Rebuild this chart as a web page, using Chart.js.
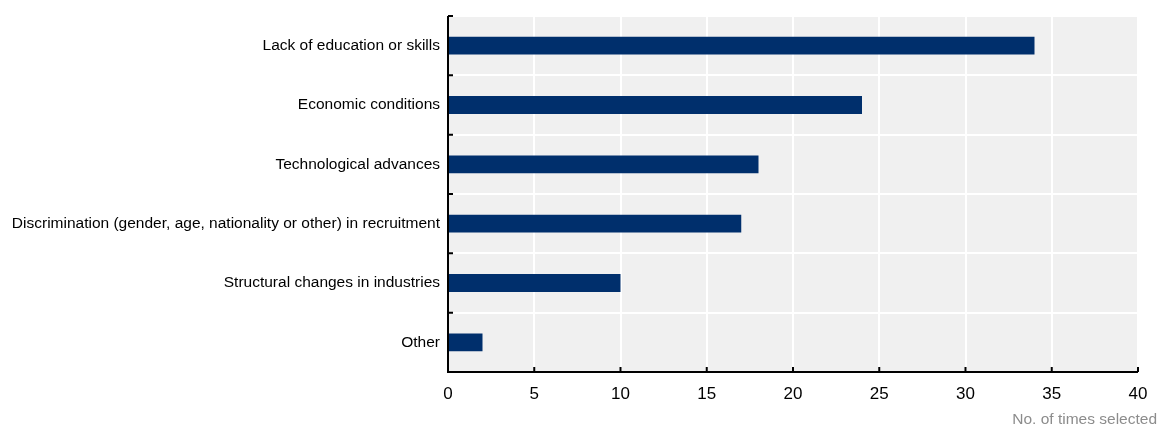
<!DOCTYPE html>
<html>
<head>
<meta charset="utf-8">
<script src="https://cdn.jsdelivr.net/npm/chart.js@4.4.1/dist/chart.umd.min.js"></script>
<style>
  html, body { margin: 0; padding: 0; background: #fff; }
  #wrap { width: 1160px; height: 428px; position: relative; }
</style>
</head>
<body>
<div id="wrap"><canvas id="chart"></canvas></div>
<script>
// data
const categories = [
  'Lack of education or skills',
  'Economic conditions',
  'Technological advances',
  'Discrimination (gender, age, nationality or other) in recruitment',
  'Structural changes in industries',
  'Other'
];
const timesSelected = [34, 24, 18, 17, 10, 2];
const xMin = 0;
const xMax = 40;
const xStep = 5;
const axisTitle = 'No. of times selected';

const FONT = "'Liberation Sans', Arial, sans-serif";
const FSIZE = 15.5;

// gray plot background, inward tick marks, black axis lines and the axis title
const frame = {
  id: 'frame',
  beforeDraw(chart) {
    const a = chart.chartArea, c = chart.ctx;
    c.save();
    c.fillStyle = '#f0f0f0';
    c.fillRect(a.left, a.top, a.right - a.left, a.bottom - a.top);
    c.restore();
  },
  afterDatasetsDraw(chart) {
    const a = chart.chartArea, c = chart.ctx;
    const xs = chart.scales.x, ys = chart.scales.y;
    const len = 5;
    c.save();
    c.strokeStyle = '#000';
    c.lineWidth = 2;
    c.beginPath();
    c.moveTo(a.left, a.top);
    c.lineTo(a.left, a.bottom);
    c.lineTo(a.right, a.bottom);
    // y ticks at category boundaries
    for (let k = 0; k <= categories.length; k++) {
      const y = ys.getPixelForValue(k - 0.5);
      c.moveTo(a.left, y);
      c.lineTo(a.left + len, y);
    }
    // x ticks
    xs.ticks.forEach(t => {
      const x = xs.getPixelForValue(t.value);
      c.moveTo(x, a.bottom);
      c.lineTo(x, a.bottom - len);
    });
    c.stroke();
    c.fillStyle = '#8c8c8c';
    c.font = FSIZE + 'px ' + FONT;
    c.textAlign = 'right';
    c.textBaseline = 'middle';
    c.fillText(axisTitle, chart.width - 3, a.bottom + 48);
    c.restore();
  }
};

new Chart(document.getElementById('chart'), {
  type: 'bar',
  data: {
    labels: categories,
    datasets: [{
      data: timesSelected,
      backgroundColor: '#002f6c',
      categoryPercentage: 1,
      barPercentage: 0.3
    }]
  },
  options: {
    indexAxis: 'y',
    responsive: true,
    maintainAspectRatio: false,
    animation: false,
    layout: { padding: { left: 0, right: 22, top: 16, bottom: 0 } },
    plugins: {
      legend: { display: false },
      tooltip: { enabled: false }
    },
    scales: {
      x: {
        min: xMin,
        max: xMax,
        border: { display: false },
        grid: { color: '#fff', lineWidth: 2, drawTicks: false },
        ticks: {
          stepSize: xStep,
          color: '#000',
          padding: 12,
          font: { family: FONT, size: 17 }
        },
        afterFit(scale) {
          scale.height = 56;
          scale.paddingLeft = 0;
          scale.paddingRight = 0;
        }
      },
      y: {
        border: { display: false },
        grid: { color: '#fff', lineWidth: 2, drawTicks: false, offset: true },
        ticks: {
          color: '#000',
          padding: 8,
          font: { family: FONT, size: FSIZE }
        },
        afterFit(scale) {
          scale.width = 448;
          scale.paddingTop = 0;
          scale.paddingBottom = 0;
        }
      }
    }
  },
  plugins: [frame]
});
</script>
</body>
</html>
